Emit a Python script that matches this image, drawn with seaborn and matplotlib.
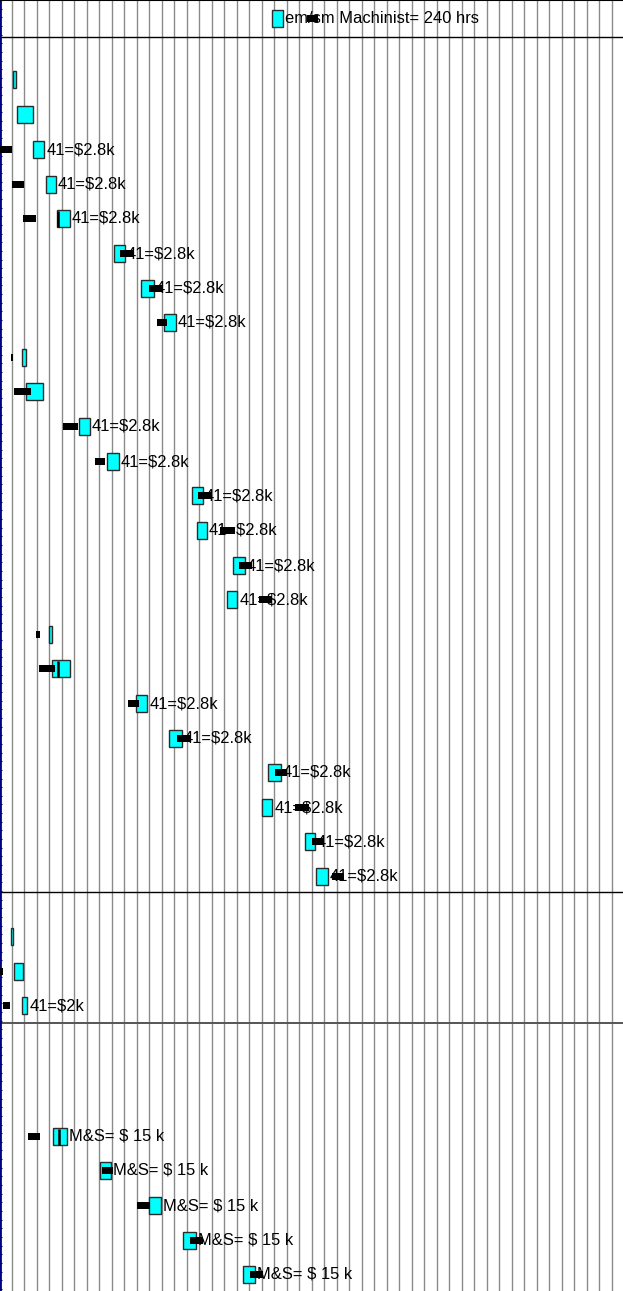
import numpy as np
import seaborn as sns
import matplotlib.pyplot as plt
from matplotlib.ticker import MultipleLocator

sns.set_style('white')
plt.rcParams['font.family'] = ['Liberation Sans', 'DejaVu Sans']

# row positions (top-down, chart units) and the data per task row
row_y = [18, 79, 114, 149, 184, 218, 253, 288, 322, 357, 391, 426, 461, 495, 530, 565,
         599, 634, 668, 703, 738, 772, 807, 841, 876, 936, 971, 1005,
         1136, 1170, 1205, 1240, 1274]

cyan_start = [20.82, 0.13, 0.45, 1.73, 2.74, 3.65, 8.18, 10.32, 12.21, 0.85, 1.12, 5.41,
              7.60, 14.40, 14.80, 17.68, 17.20, 3.01, 3.25, 9.94, 12.61, 20.48, 20.00,
              23.46, 24.34, -0.06, 0.18, 0.85, 3.28, 7.06, 11.01, 13.73, 18.53]
cyan_end = [21.70, 0.34, 1.73, 2.61, 3.52, 4.66, 9.06, 11.38, 13.14, 1.12, 2.48, 6.26,
            8.58, 15.28, 15.60, 18.66, 18.05, 3.25, 4.66, 10.85, 13.60, 21.52, 20.85,
            24.26, 25.28, 0.13, 0.88, 1.25, 4.40, 7.94, 11.97, 14.74, 19.46]
black_start = [23.62, None, None, -1.20, 0.00, 0.93, 8.66, 11.01, 11.60, -0.06, 0.18, 4.13,
               6.66, 14.93, 16.66, 18.21, 19.81, 1.94, 2.21, 9.28, 13.20, 21.06, 22.66,
               24.00, 25.60, None, -1.20, -0.67, 1.33, 7.20, 10.05, 14.26, 19.06]
black_end = [24.50, None, None, 0.00, 0.98, 1.92, 9.78, 12.08, 12.40, 0.13, 1.52, 5.33,
             7.46, 16.00, 17.86, 19.20, 20.80, 2.26, 3.46, 10.21, 14.26, 22.05, 23.81,
             24.98, 26.61, None, -0.67, -0.14, 2.26, 8.13, 11.06, 15.33, 20.13]

rate = '41=$2.8k'
ms = 'M&S= $ 15 k'
labels = (['em/sm Machinist= 240 hrs', '', ''] + [rate] * 6 + ['', ''] + [rate] * 6
          + ['', ''] + [rate] * 6 + ['', '', '41=$2k'] + [ms] * 5)

# thin marker lines inside a few boxes
mark_rows = [218, 668, 1136]
mark_x = [3.74, 3.73, 3.81]

section_lines = [37, 892, 1023]

fig = plt.figure(figsize=(6.23, 12.91), dpi=100)
ax = fig.add_axes([0, 0, 1, 1])

y = np.array(row_y, dtype=float) + 0.5
cs = np.array(cyan_start, dtype=float)
ce = np.array(cyan_end, dtype=float)
ax.barh(y, ce - cs, left=cs, height=16.5, color='#00ffff', edgecolor='#2b2b2b',
        linewidth=1, zorder=3)

bs = np.array([np.nan if v is None else v for v in black_start])
be = np.array([np.nan if v is None else v for v in black_end])
m = ~np.isnan(bs)
ax.barh(y[m], (be - bs)[m], left=bs[m], height=7, color='black', linewidth=0, zorder=5)

for yy, x1, lab in zip(y, cyan_end, labels):
    if lab:
        ax.annotate(lab, (x1, yy), xytext=(1.5, 0), textcoords='offset points',
                    va='center', ha='left', fontsize=11.9, color='black', zorder=4)

for yy, xx in zip(mark_rows, mark_x):
    ax.vlines(xx, yy - 7.5, yy + 8.5, color='black', lw=1.8, zorder=4)

for i, yy in enumerate(section_lines):
    ax.axhline(yy, color='black' if i < 2 else '#555555', lw=1 if i < 2 else 1.4, zorder=2)

ax.set_xlim(-0.936, 48.9)
ax.set_ylim(1291, 0)
ax.set_xticks(range(0, 49))
ax.grid(axis='x', color='#8a8a8a', lw=1, zorder=0)
ax.grid(axis='y', visible=False)
ax.set_yticks([])
ax.yaxis.set_minor_locator(MultipleLocator(8.65))
ax.tick_params(axis='x', length=0, labelbottom=False)
ax.tick_params(axis='y', which='minor', direction='in', length=1.2, width=0.8,
               color='#000080', left=True)

ax.spines['left'].set_color('#000080')
ax.spines['left'].set_linewidth(2)
ax.spines['top'].set_color('black')
ax.spines['top'].set_linewidth(1.5)
ax.spines['right'].set_visible(False)
ax.spines['bottom'].set_visible(False)

fig.savefig('out.png', dpi=100)
